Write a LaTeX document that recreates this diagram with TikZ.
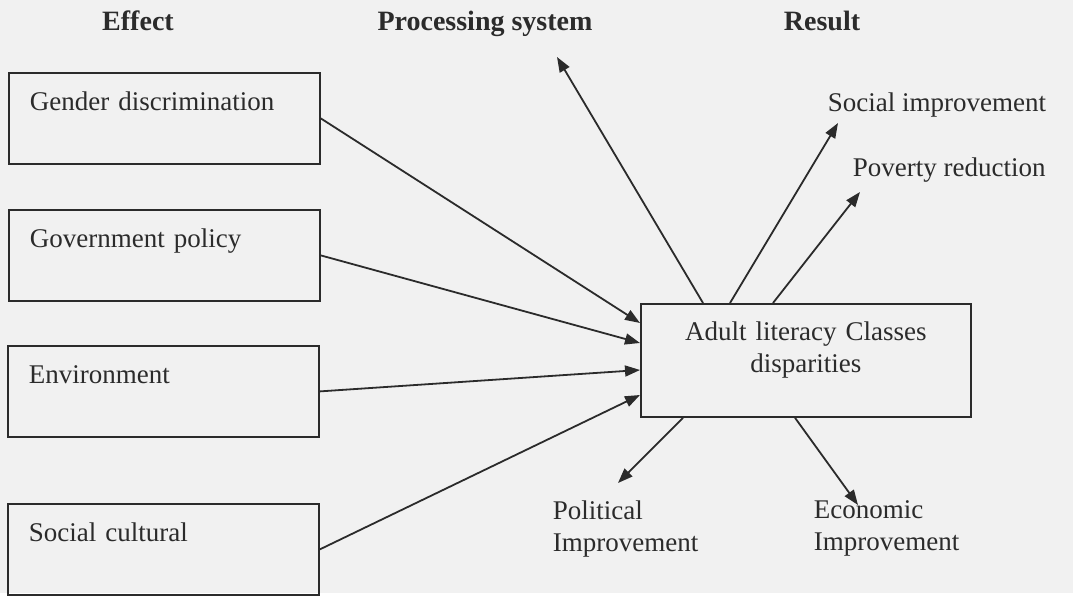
\documentclass[tikz,border=0pt]{standalone}
\usepackage{fontspec}
\setmainfont{Liberation Serif}
\usetikzlibrary{arrows.meta}
\definecolor{ink}{HTML}{2B2B2B}
\definecolor{paper}{HTML}{F1F1F1}

\begin{document}
\begin{tikzpicture}[
		x=1pt,
		y=-1pt,
		line width=1.8pt,
		color=ink,
		every node/.style={
			inner sep=0pt,
			text=ink,
			font=\fontsize{27}{32}\selectfont,
		},
		heading/.style={
			anchor=base,
			font=\fontsize{28}{32}\selectfont\bfseries,
		},
		effect/.style={
			draw,
			anchor=north west,
			text width=269pt,
			inner xsep=21pt,
			align=left,
			text height=38pt,
			text depth=53pt,
		},
		classbox/.style={
			draw,
			anchor=north west,
			text width=330pt,
			align=center,
			text height=37pt,
			text depth=76pt,
		},
		outcome/.style={
			anchor=north west,
			align=left,
		},
		flow/.style={
			-{Triangle[length=15pt,width=11pt]},
		},
	]
		\fill[paper] (0,0) rectangle (1073,593);

		\node[heading] (effecthead) at (138,31) {Effect};
		\node[heading] (processhead) at (485,31) {Processing system};
		\node[heading] (resulthead) at (822,31) {Result};

		\node[effect] (gender) at (8,72) {Gender discrimination};
		\node[effect] (policy) at (8,209) {Government policy};
		\node[effect] (environment) at (7,345) {Environment};
		\node[effect] (cultural) at (7,503) {Social cultural};

		\node[classbox] (classes) at (640,303) {Adult literacy Classes\\disparities};

		\node[anchor=base west] (social) at (827,112) {Social improvement};
		\node[anchor=base west] (poverty) at (852,177) {Poverty reduction};
		\node[outcome] (political) at (552,500) {Political\\Improvement};
		\node[outcome] (economic) at (813,500) {Economic\\Improvement};

		\coordinate (toprocess) at (557,57);
		\coordinate (tosocial) at (838,123);
		\coordinate (topoverty) at (860,192);
		\coordinate (topolitical) at (618,483);
		\coordinate (toeconomic) at (858,505);

		\draw[flow] (gender.east) -- ([yshift=-20pt]classes.north west);
		\draw[flow] (policy.east) -- ([yshift=-40pt]classes.north west);
		\draw[flow] (environment.east) -- ([yshift=-67pt]classes.north west);
		\draw[flow] (cultural.east) -- ([yshift=-92pt]classes.north west);
		\draw[flow] ([xshift=63pt]classes.north west) -- (toprocess);
		\draw[flow] ([xshift=90pt]classes.north west) -- (tosocial);
		\draw[flow] ([xshift=133pt]classes.north west) -- (topoverty);
		\draw[flow] ([xshift=43pt]classes.south west) -- (topolitical);
		\draw[flow] ([xshift=155pt]classes.south west) -- (toeconomic);
	\end{tikzpicture}
\end{document}
